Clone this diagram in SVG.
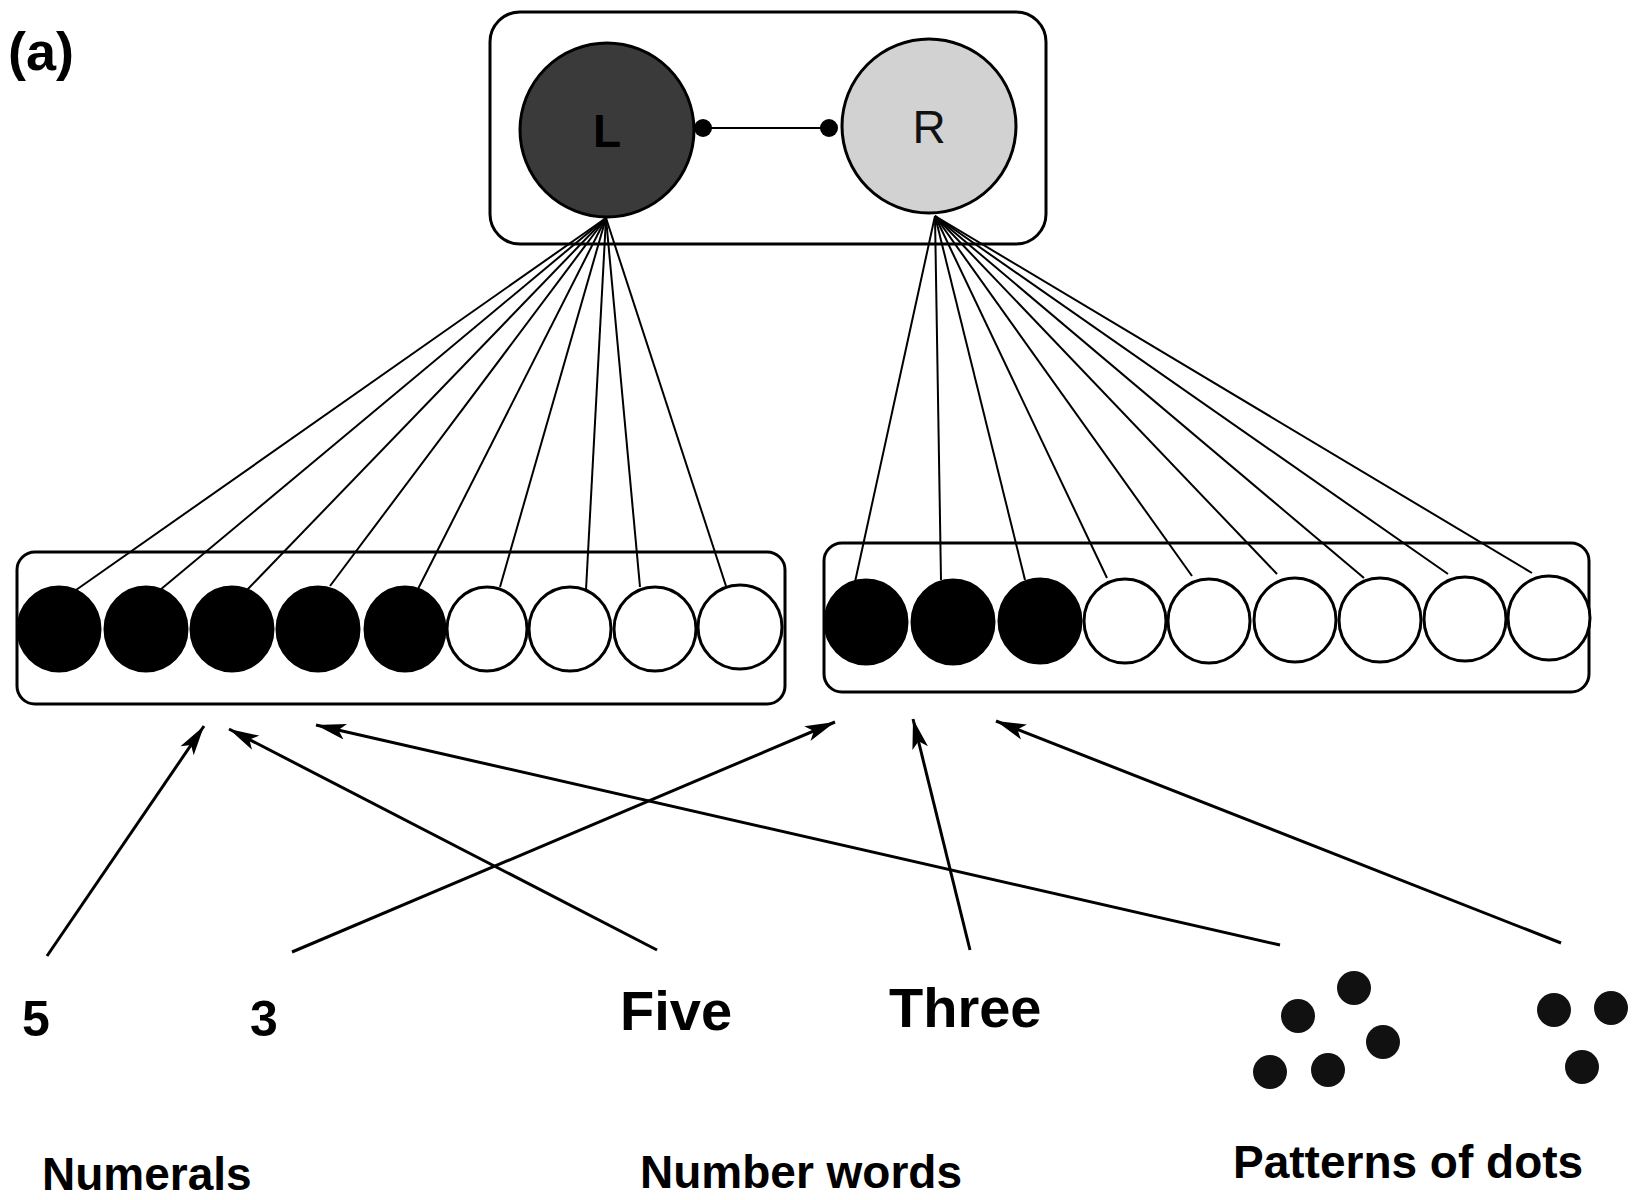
<svg xmlns="http://www.w3.org/2000/svg" width="1632" height="1200" viewBox="0 0 1632 1200">
<style>
.box{fill:none;stroke:#000;stroke-width:3}
.blk{fill:#000;stroke:#000;stroke-width:3}
.wht{fill:#fff;stroke:#000;stroke-width:3}
.ln{stroke:#000;stroke-width:2;fill:none}
.arr{stroke:#000;stroke-width:3;fill:none;marker-end:url(#ah)}
.t{font-family:"Liberation Sans",Arial,sans-serif;font-weight:bold;fill:#000}
.dot{fill:#111}
</style>
<defs>
<marker id="ah" markerUnits="userSpaceOnUse" markerWidth="32" markerHeight="18" refX="30" refY="9" orient="auto">
<path d="M0,1 L30,9 L0,17 L7,9 z" fill="#000"/>
</marker>
</defs>
<rect width="1632" height="1200" fill="#fff"/>
<text class="t" x="8" y="70" font-size="54">(a)</text>

<g id="hemispheres">
<rect class="box" x="490" y="12" width="556" height="232" rx="30"/>
</g>
<g id="nodeL">
<circle cx="607" cy="130" r="87" fill="#3a3a3a" stroke="#000" stroke-width="3"/>
<text class="t" x="607" y="147" font-size="46" text-anchor="middle" font-weight="normal" fill="#111">L</text>
</g>
<g id="nodeR">
<circle cx="929" cy="126" r="87" fill="#d2d2d2" stroke="#000" stroke-width="3"/>
<text x="929" y="143" font-size="46" text-anchor="middle" font-family="Liberation Sans,Arial,sans-serif" fill="#111">R</text>
</g>

<g id="leftLayer">
<rect class="box" x="17" y="552" width="768" height="152" rx="18"/>
<ellipse class="blk" cx="59" cy="629" rx="41" ry="42"/>
<ellipse class="blk" cx="146" cy="629" rx="41" ry="42"/>
<ellipse class="blk" cx="232" cy="629" rx="41" ry="42"/>
<ellipse class="blk" cx="318" cy="629" rx="41" ry="42"/>
<ellipse class="blk" cx="405" cy="629" rx="40" ry="42"/>
<ellipse class="wht" cx="487" cy="629" rx="40" ry="42"/>
<ellipse class="wht" cx="570" cy="629" rx="41" ry="42"/>
<ellipse class="wht" cx="655" cy="629" rx="41" ry="42"/>
<ellipse class="wht" cx="740" cy="627" rx="42" ry="42"/>
</g>

<g id="rightLayer">
<rect class="box" x="824" y="543" width="765" height="149" rx="18"/>
<ellipse class="blk" cx="866" cy="622" rx="41" ry="42"/>
<ellipse class="blk" cx="953" cy="622" rx="41" ry="42"/>
<ellipse class="blk" cx="1040" cy="621" rx="41" ry="42"/>
<ellipse class="wht" cx="1125" cy="621" rx="41" ry="42"/>
<ellipse class="wht" cx="1209" cy="621" rx="41" ry="42"/>
<ellipse class="wht" cx="1295" cy="620" rx="41" ry="42"/>
<ellipse class="wht" cx="1380" cy="620" rx="41" ry="42"/>
<ellipse class="wht" cx="1465" cy="619" rx="41" ry="42"/>
<ellipse class="wht" cx="1549" cy="618" rx="41" ry="42"/>
</g>

<g id="stim5"><text class="t" x="22" y="1036" font-size="50">5</text></g>
<g id="stim3"><text class="t" x="250" y="1036" font-size="50">3</text></g>
<g id="stimFive"><text class="t" x="620" y="1030" font-size="56">Five</text></g>
<g id="stimThree"><text class="t" x="889" y="1027" font-size="56">Three</text></g>
<g id="dots5">
<circle class="dot" cx="1298" cy="1016" r="17"/>
<circle class="dot" cx="1354" cy="988" r="17"/>
<circle class="dot" cx="1383" cy="1042" r="17"/>
<circle class="dot" cx="1270" cy="1072" r="17"/>
<circle class="dot" cx="1328" cy="1070" r="17"/>
</g>
<g id="dots3">
<circle class="dot" cx="1554" cy="1010" r="17"/>
<circle class="dot" cx="1611" cy="1008" r="17"/>
<circle class="dot" cx="1582" cy="1067" r="17"/>
</g>

<g id="labels">
<text class="t" x="42" y="1190" font-size="46">Numerals</text>
<text class="t" x="640" y="1188" font-size="46">Number words</text>
<text class="t" x="1233" y="1178" font-size="46">Patterns of dots</text>
</g>

<g id="connectors">
<line class="ln" x1="703" y1="128" x2="829" y2="128"/>
<circle cx="703" cy="128" r="9" fill="#000"/>
<circle cx="829" cy="128" r="9" fill="#000"/>
<g class="ln">
<line x1="606" y1="218" x2="76" y2="590"/>
<line x1="606" y1="218" x2="160" y2="590"/>
<line x1="606" y1="218" x2="247" y2="590"/>
<line x1="606" y1="218" x2="330" y2="586"/>
<line x1="606" y1="218" x2="418" y2="589"/>
<line x1="606" y1="218" x2="500" y2="587"/>
<line x1="606" y1="218" x2="586" y2="590"/>
<line x1="606" y1="218" x2="640" y2="587"/>
<line x1="606" y1="218" x2="726" y2="586"/>
<line x1="935" y1="216" x2="855" y2="582"/>
<line x1="935" y1="216" x2="941" y2="580"/>
<line x1="935" y1="216" x2="1025" y2="580"/>
<line x1="935" y1="216" x2="1107" y2="578"/>
<line x1="935" y1="216" x2="1192" y2="576"/>
<line x1="935" y1="216" x2="1277" y2="574"/>
<line x1="935" y1="216" x2="1364" y2="578"/>
<line x1="935" y1="216" x2="1448" y2="574"/>
<line x1="935" y1="216" x2="1532" y2="573"/>
</g>
<line class="arr" x1="47" y1="956" x2="204" y2="726"/>
<line class="arr" x1="657" y1="950" x2="229" y2="729"/>
<line class="arr" x1="1280" y1="945" x2="316" y2="725"/>
<line class="arr" x1="292" y1="952" x2="835" y2="722"/>
<line class="arr" x1="970" y1="950" x2="913" y2="719"/>
<line class="arr" x1="1561" y1="943" x2="996" y2="721"/>
</g>
</svg>
